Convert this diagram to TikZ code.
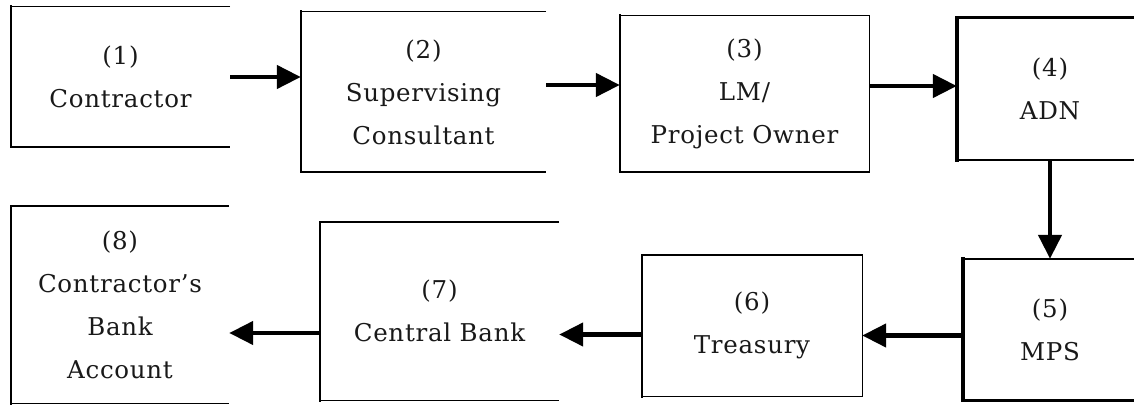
\documentclass[tikz,border=0pt]{standalone}
\usepackage{fontspec}
\setmainfont{DejaVu Serif}[LetterSpace=3]
\usetikzlibrary{arrows.meta}
\begin{document}
\begin{tikzpicture}[x=1pt,y=-1pt,
  box/.style={inner sep=0pt, align=center, font=\fontsize{24.5}{43}\selectfont, text=black!90},
  edge/.style={line width=1.4pt},
  lside/.style={line width=2.6pt, line cap=rect},
  boldedge/.style={line width=2.6pt},
  boldlside/.style={line width=4.5pt, line cap=rect},
  flow/.style={line width=4.5pt, -{Triangle[length=24pt,width=23pt]}}]
\useasboundingbox (0,0) rectangle (1134,406);
\clip (0,0) rectangle (1134,406);
\fill[white] (0,0) rectangle (1134,406);

% upper row
\node[box, minimum width=219pt, minimum height=140pt] (b1) at (120.5,77) {(1)\\Contractor};
\node[box, minimum width=245pt, minimum height=160pt] (b2) at (423.5,92) {(2)\\Supervising\\Consultant};
\node[box, minimum width=249pt, minimum height=156pt] (b3) at (744.5,94) {(3)\\LM/\\Project Owner};
\node[box, minimum width=186pt, minimum height=142pt] (b4) at (1050,89) {(4)\\ADN};

% lower row
\node[box, minimum width=174pt, minimum height=141pt] (b5) at (1050,329.5) {(5)\\MPS};
\node[box, minimum width=220pt, minimum height=141pt] (b6) at (752,325.5) {(6)\\Treasury};
\node[box, minimum width=239pt, minimum height=178pt] (b7) at (439.5,311) {(7)\\Central Bank};
\node[box, minimum width=218pt, minimum height=197pt] (b8) at (120,304.5) {(8)\\Contractor's\\Bank\\Account};

% frames: open on the right
\foreach \b in {b1,b2,b7,b8}{
  \draw[edge] (\b.north east) -- (\b.north west) (\b.south west) -- (\b.south east);
  \draw[lside] (\b.north west) -- (\b.south west);
}
% closed frames
\foreach \b in {b3,b6}{
  \draw[edge] (\b.north west) rectangle (\b.south east);
  \draw[lside] (\b.north west) -- (\b.south west);
}
\foreach \b in {b4,b5}{
  \draw[boldedge] (\b.north west) rectangle (\b.south east);
  \draw[boldlside] (\b.north west) -- (\b.south west);
}

% flow of the payment
\draw[flow] (b1.east) -- (b1.east -| b2.west);
\draw[flow] ([yshift=7pt]b2.east) -- ([yshift=7pt]b2.east -| b3.west);
\draw[flow] ([yshift=3pt]b4.west -| b3.east) -- ([yshift=3pt]b4.west);
\draw[flow] (b4.south) -- (b4.south |- b5.north);
\draw[flow] ([yshift=-6pt]b5.west) -- ([yshift=-6pt]b5.west -| b6.east);
\draw[flow] ([yshift=-9pt]b6.west) -- ([yshift=-9pt]b6.west -| b7.east);
\draw[flow] ([yshift=-22pt]b7.west) -- ([yshift=-22pt]b7.west -| b8.east);
\end{tikzpicture}
\end{document}
